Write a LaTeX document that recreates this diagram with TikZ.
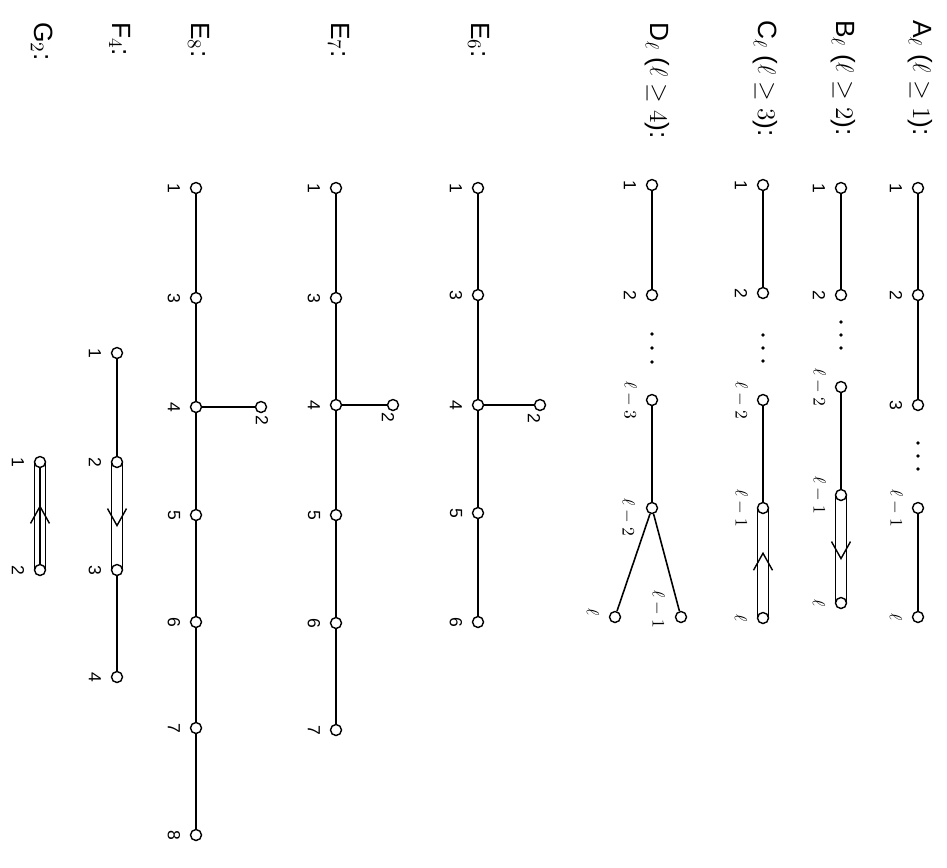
\documentclass[tikz,border=0pt]{standalone}
\usepackage{fontspec}
\setmainfont{Liberation Sans}
\usetikzlibrary{backgrounds}
\tikzset{
  dn/.style={circle, draw, fill=white, inner sep=0pt, minimum size=0.22cm, line width=0.8pt},
  lab/.style={rotate=-90, font=\fontsize{10}{11}\selectfont, inner sep=0pt},
  ttl/.style={rotate=-90, anchor=west, font=\fontsize{15}{17}\selectfont, inner sep=0pt},
  bond/.style={line width=0.9pt},
  chev/.style={line width=0.8pt},
}
\newcommand\dyn[4]{\node[dn] (#1) at (#2,#3) {}; \node[lab] (#1l) at ({#2-22},#3) {#4};}
\newcommand\dyndots[4]{\fill (#1,#2) circle (1.1pt); \fill (#1,#3) circle (1.1pt); \fill (#1,#4) circle (1.1pt);}
\newcommand\dbldown[4]{%
  \draw[bond] ([xshift=-0.11cm]#1.center) -- ([xshift=-0.11cm]#2.center);
  \draw[bond] ([xshift=0.11cm]#1.center) -- ([xshift=0.11cm]#2.center);
  \path (#1) -- (#2) coordinate[pos=#4] (#3);
  \draw[chev] ([xshift=-0.19cm,yshift=0.34cm]#3) -- (#3) -- ([xshift=0.19cm,yshift=0.34cm]#3);}
\newcommand\dblup[4]{%
  \draw[bond] ([xshift=-0.11cm]#1.center) -- ([xshift=-0.11cm]#2.center);
  \draw[bond] ([xshift=0.11cm]#1.center) -- ([xshift=0.11cm]#2.center);
  \path (#1) -- (#2) coordinate[pos=#4] (#3);
  \draw[chev] ([xshift=-0.19cm,yshift=-0.34cm]#3) -- (#3) -- ([xshift=0.19cm,yshift=-0.34cm]#3);}
\begin{document}
\begin{tikzpicture}[x=0.02cm,y=-0.02cm]
\useasboundingbox (0,0) rectangle (947,867);

% ---------- A_l ----------
\node[ttl] (tA) at (920,20) {A$_\ell$ ($\ell \geq 1$):};
\dyn{A1}{918}{188}{1}
\dyn{A2}{918}{295}{2}
\dyn{A3}{918}{405}{3}
\dyn{Ak}{918}{508}{$\ell-1$}
\dyn{Al}{918}{617}{$\ell$}
\dyndots{918}{443}{456}{469}

% ---------- B_l ----------
\node[ttl] (tB) at (843,20) {B$_\ell$ ($\ell \geq 2$):};
\dyn{B1}{841}{188}{1}
\dyn{B2}{841}{295}{2}
\dyn{Bj}{841}{387}{$\ell-2$}
\dyn{Bk}{841}{495}{$\ell-1$}
\dyn{Bl}{841}{603}{$\ell$}
\dyndots{841}{322}{335}{348}

% ---------- C_l ----------
\node[ttl] (tC) at (765,20) {C$_\ell$ ($\ell \geq 3$):};
\dyn{C1}{763}{185}{1}
\dyn{C2}{763}{293}{2}
\dyn{Cj}{763}{400}{$\ell-2$}
\dyn{Ck}{763}{508}{$\ell-1$}
\dyn{Cl}{763}{618}{$\ell$}
\dyndots{763}{335}{348}{361}

% ---------- D_l ----------
\node[ttl] (tD) at (657,22) {D$_\ell$ ($\ell \geq 4$):};
\dyn{D1}{652}{185}{1}
\dyn{D2}{652}{295}{2}
\dyn{Di}{652}{400}{$\ell-3$}
\node[dn] (Dj) at (652,508) {};
\node[lab] (Djl) at (628,517) {$\ell-2$};
\node[dn] (Dk) at (681,617) {};
\node[lab] (Dkl) at (658,609) {$\ell-1$};
\node[dn] (Dl) at (615,617) {};
\node[lab] (Dll) at (593,612) {$\ell$};
\dyndots{652}{334}{348}{362}

% ---------- E_6 ----------
\node[ttl] (tE6) at (479,22) {E$_6$:};
\dyn{Ea1}{478}{188}{1}
\dyn{Ea3}{478}{295}{3}
\dyn{Ea4}{478}{405}{4}
\node[dn] (Ea2) at (540,405) {};
\node[lab] (Ea2l) at (534,418) {2};
\dyn{Ea5}{478}{513}{5}
\dyn{Ea6}{478}{622}{6}

% ---------- E_7 ----------
\node[ttl] (tE7) at (339,22) {E$_7$:};
\dyn{Eb1}{336}{188}{1}
\dyn{Eb3}{336}{298}{3}
\dyn{Eb4}{336}{405}{4}
\node[dn] (Eb2) at (393,405) {};
\node[lab] (Eb2l) at (388,417) {2};
\dyn{Eb5}{336}{515}{5}
\dyn{Eb6}{336}{623}{6}
\dyn{Eb7}{336}{730}{7}

% ---------- E_8 ----------
\node[ttl] (tE8) at (199,22) {E$_8$:};
\dyn{Ec1}{196}{188}{1}
\dyn{Ec3}{196}{298}{3}
\dyn{Ec4}{196}{407}{4}
\node[dn] (Ec2) at (261,407) {};
\node[lab] (Ec2l) at (262,420) {2};
\dyn{Ec5}{196}{515}{5}
\dyn{Ec6}{196}{622}{6}
\dyn{Ec7}{196}{728}{7}
\dyn{Ec8}{196}{835}{8}

% ---------- F_4 ----------
\node[ttl] (tF) at (120,22) {F$_4$:};
\dyn{F1}{117}{353}{1}
\dyn{F2}{117}{462}{2}
\dyn{F3}{117}{570}{3}
\dyn{F4}{117}{677}{4}

% ---------- G_2 ----------
\node[ttl] (tG) at (42,22) {G$_2$:};
\dyn{G1}{40}{462}{1}
\dyn{G2}{40}{570}{2}

\begin{scope}[on background layer]
  \draw[bond] (A1) -- (A2) -- (A3);
  \draw[bond] (Ak) -- (Al);
  \draw[bond] (B1) -- (B2);
  \draw[bond] (Bj) -- (Bk);
  \dbldown{Bk}{Bl}{Btip}{0.6}
  \draw[bond] (C1) -- (C2);
  \draw[bond] (Cj) -- (Ck);
  \dblup{Ck}{Cl}{Ctip}{0.4}
  \draw[bond] (D1) -- (D2);
  \draw[bond] (Di) -- (Dj);
  \draw[bond] (Dj) -- (Dk);
  \draw[bond] (Dj) -- (Dl);
  \draw[bond] (Ea1) -- (Ea3) -- (Ea4) -- (Ea5) -- (Ea6);
  \draw[bond] (Ea4) -- (Ea2);
  \draw[bond] (Eb1) -- (Eb3) -- (Eb4) -- (Eb5) -- (Eb6) -- (Eb7);
  \draw[bond] (Eb4) -- (Eb2);
  \draw[bond] (Ec1) -- (Ec3) -- (Ec4) -- (Ec5) -- (Ec6) -- (Ec7) -- (Ec8);
  \draw[bond] (Ec4) -- (Ec2);
  \draw[bond] (F1) -- (F2);
  \dbldown{F2}{F3}{Ftip}{0.6}
  \draw[bond] (F3) -- (F4);
  \draw[bond] (G1.center) -- (G2.center);
  \dblup{G1}{G2}{Gtip}{0.4}
\end{scope}
\end{tikzpicture}
\end{document}
